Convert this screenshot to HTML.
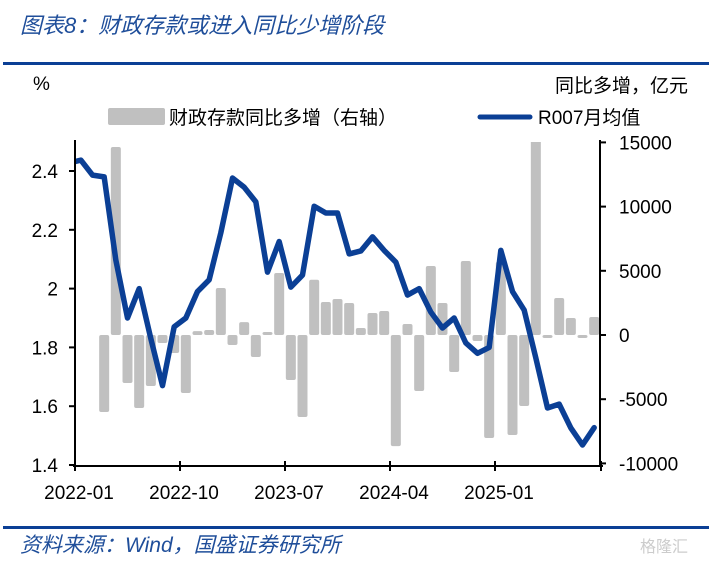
<!DOCTYPE html>
<html><head><meta charset="utf-8"><style>
body{margin:0;background:#fff;width:709px;height:561px;overflow:hidden;font-family:"Liberation Sans","Noto Sans CJK SC",sans-serif}
svg text{font-family:"Liberation Sans","Noto Sans CJK SC",sans-serif}
</style></head><body>
<svg id="chart" width="709" height="561">
<text x="20" y="33" font-size="22" font-style="italic" fill="#1f4e9a">图表8：财政存款或进入同比少增阶段</text>
<rect x="3" y="62" width="706" height="3" fill="#0b3f95"/>
<text x="33" y="90" font-size="19" fill="#000">%</text>
<text x="688" y="92" font-size="19" fill="#000" text-anchor="end">同比多增，亿元</text>
<g>
<rect x="108" y="108" width="57" height="17" rx="2" fill="#c0c0c0"/>
<text x="169" y="124" font-size="19">财政存款同比多增（右轴）</text>
<line x1="480" y1="117" x2="530" y2="117" stroke="#0b3f95" stroke-width="5" stroke-linecap="round"/>
<text x="538" y="124" font-size="19">R007月均值</text>
</g>
<defs><clipPath id="plotclip"><rect x="75" y="142" width="525" height="328"/></clipPath><clipPath id="lineclip"><rect x="75" y="130" width="525" height="340"/></clipPath></defs>
<g id="bars" clip-path="url(#plotclip)"></g>
<g id="line" clip-path="url(#lineclip)"></g>
<g id="axes"></g>
<rect x="3" y="526" width="706" height="3" fill="#0b3f95"/>
<text x="20" y="552" font-size="21" font-style="italic" fill="#1f4e9a">资料来源：Wind，国盛证券研究所</text>
<text x="640" y="552" font-size="16" fill="#cccccc">格隆汇</text>
</svg>
<script>
const months = 45;
const startLabel = ["2022-01","2022-10","2023-07","2024-04","2025-01"];
const tickIdx = [0,9,18,27,36];
const priorR007 = 2.427;
const r007 = [2.437,2.386,2.38,2.097,1.90,2.00,1.83,1.67,1.87,1.90,1.99,2.03,2.19,2.376,2.345,2.295,2.056,2.16,2.005,2.046,2.28,2.257,2.257,2.118,2.128,2.176,2.13,2.09,1.978,2.00,1.92,1.866,1.90,1.815,1.78,1.80,2.13,1.99,1.927,1.764,1.594,1.607,1.526,1.468,1.527];
const deposits = [0,0,-6000,14640,-3740,-5690,-3970,-620,-1400,-4520,300,390,3660,-780,1000,-1710,230,4830,-3500,-6390,4300,2570,2800,2490,545,1710,1870,-8650,860,-4360,5370,2490,-2880,5760,-470,-8020,5700,-7790,-5530,16000,-230,2880,1320,-230,1400];
const leftTicks = [1.4,1.6,1.8,2,2.2,2.4];
const rightTicks = [-10000,-5000,0,5000,10000,15000];
const X0=75,X1=600,step=(X1-X0)/months;
const xC=i=>X0+step*(i+0.5);
const yL=v=>465-(v-1.4)*294;
const yR=w=>335-w*0.01284;
const NS="http://www.w3.org/2000/svg";
function mk(t,a,p){const e=document.createElementNS(NS,t);for(const k in a)e.setAttribute(k,a[k]);p.appendChild(e);return e;}
const bars=document.getElementById('bars'),line=document.getElementById('line'),axes=document.getElementById('axes');
deposits.forEach((w,i)=>{
 if(w===0)return;
 const y0=yR(0),y1=yR(w);
 const r=mk('rect',{x:xC(i)-5,y:Math.min(y0,y1),width:10,height:Math.max(1,Math.abs(y1-y0)),rx:2,fill:'#c0c0c0'},bars);
 
 
});
let pts=[[xC(-1),yL(priorR007)]].concat(r007.map((v,i)=>[xC(i),yL(v)]));
const pl=mk('polyline',{points:pts.map(p=>p.join(',')).join(' '),fill:'none',stroke:'#0b3f95','stroke-width':5.5,'stroke-linejoin':'round','stroke-linecap':'round'},line);


const la=mk('line',{x1:X0,y1:140,x2:X0,y2:466,stroke:'#000','stroke-width':2},axes);


const ra=mk('line',{x1:X1,y1:140,x2:X1,y2:466,stroke:'#000','stroke-width':2},axes);


const xa=mk('line',{x1:X0-2,y1:466,x2:X1+3,y2:466,stroke:'#000','stroke-width':2},axes);


leftTicks.forEach(v=>{
 mk('line',{x1:X0-6,y1:yL(v),x2:X0,y2:yL(v),stroke:'#000','stroke-width':2},axes);
 const t=mk('text',{x:X0-17,y:yL(v)+7,'font-size':19,'text-anchor':'end'},axes);
 t.textContent=String(v);
 
 
});
rightTicks.forEach(v=>{
 mk('line',{x1:X1,y1:yR(v),x2:X1+6,y2:yR(v),stroke:'#000','stroke-width':2},axes);
 const t=mk('text',{x:X1+19,y:yR(v)+7,'font-size':19},axes);
 t.textContent=String(v);
 
 
});
tickIdx.forEach((ix,k)=>{
 const x=X0+step*ix;
 mk('line',{x1:x,y1:461,x2:x,y2:471,stroke:'#000','stroke-width':2},axes);
 const t=mk('text',{x:x+4,y:499,'font-size':19,'text-anchor':'middle'},axes);
 t.textContent=startLabel[k];
 
 
});
mk('line',{x1:X1+1,y1:461,x2:X1+1,y2:471,stroke:'#000','stroke-width':2},axes);
</script>
</body></html>
